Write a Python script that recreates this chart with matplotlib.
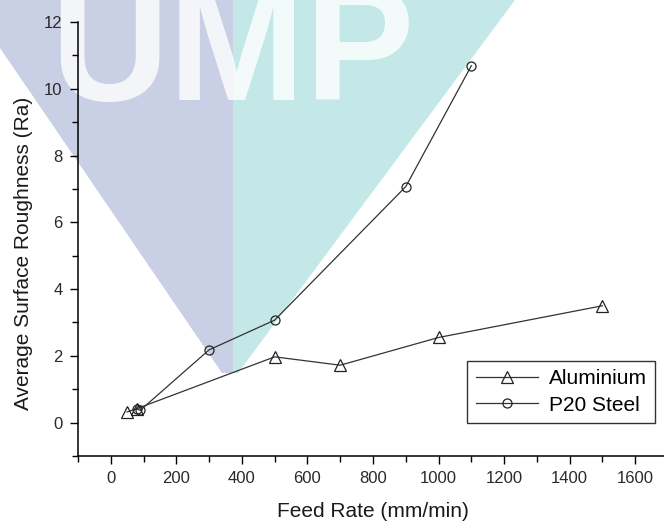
import matplotlib.pyplot as plt
from matplotlib.patches import Polygon
from matplotlib.ticker import MultipleLocator

plt.rcParams['font.family'] = ['Liberation Sans', 'DejaVu Sans']

# data
feed_al = [50, 80, 500, 700, 1000, 1500]
ra_al = [0.32, 0.42, 1.97, 1.72, 2.55, 3.5]

feed_p20 = [80, 90, 300, 500, 900, 1100]
ra_p20 = [0.40, 0.37, 2.18, 3.07, 7.07, 10.69]

series_names = ['Aluminium', 'P20 Steel']

W, H = 664, 522


def px(x, y):
    # pixel position -> figure fraction
    return (x / W, 1 - y / H)


fig = plt.figure(figsize=(W / 100, H / 100), dpi=100)

# background watermark (UMP logo)
lav = Polygon([px(0, 0), px(233, 0), px(233, 373), px(222, 373), px(0, 48)],
              closed=True, transform=fig.transFigure, facecolor='#c9cfe4',
              edgecolor='none', zorder=0)
cyan = Polygon([px(233, 0), px(515, 0), px(238, 373), px(233, 373)],
               closed=True, transform=fig.transFigure, facecolor='#c4e8e8',
               edgecolor='none', zorder=0)
fig.patches.extend([lav, cyan])
fig.text(*px(50, 100), 'UMP', fontsize=118, fontweight='bold', color='white',
         alpha=0.8, ha='left', va='baseline', zorder=1)

ax = fig.add_axes([78 / W, 1 - 456 / H, (668 - 78) / W, (456 - 22) / H])
ax.set_zorder(3)
ax.patch.set_alpha(0)

line_kw = dict(color='#333333', linewidth=0.9, markerfacecolor='none',
               markeredgecolor='#222222', markeredgewidth=0.9)
ax.plot(feed_al, ra_al, marker='^', markersize=8, label=series_names[0], **line_kw)
ax.plot(feed_p20, ra_p20, marker='o', markersize=6.5, label=series_names[1], **line_kw)

ax.set_xlim(-100, 1700)
ax.set_ylim(-1, 12)
ax.xaxis.set_major_locator(MultipleLocator(200))
ax.xaxis.set_minor_locator(MultipleLocator(100))
ax.yaxis.set_major_locator(MultipleLocator(2))
ax.yaxis.set_minor_locator(MultipleLocator(1))

for side in ['top', 'right']:
    ax.spines[side].set_visible(False)
for side in ['left', 'bottom']:
    ax.spines[side].set_linewidth(1.1)

ax.tick_params(which='major', direction='out', length=6, width=1, labelsize=12,
               labelcolor='#2a2a2a', pad=5)
ax.tick_params(which='minor', direction='out', length=4, width=1)

ax.set_xlabel('Feed Rate (mm/min)', fontsize=15, color='#1a1a1a')
ax.set_ylabel('Average Surface Roughness (Ra)', fontsize=15, color='#1a1a1a')
ax.xaxis.set_label_coords(0.5, -0.106)
ax.yaxis.set_label_coords(-0.076, 0.468)

leg = ax.legend(loc='lower right', bbox_to_anchor=(0.978, 0.076), fontsize=15,
                frameon=True, fancybox=False, edgecolor='black',
                handlelength=3.0, borderpad=0.4, labelspacing=0.35,
                handletextpad=0.5, borderaxespad=0)
leg.get_frame().set_linewidth(1.0)

plt.savefig('out.png', dpi=100)
